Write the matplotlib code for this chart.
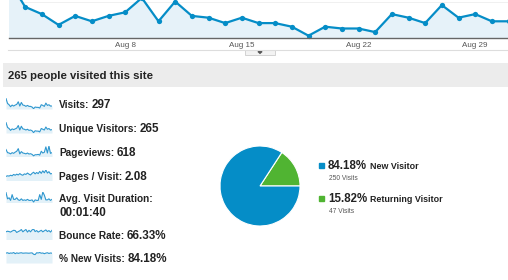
import matplotlib
matplotlib.use("Agg")
import matplotlib.pyplot as plt
from matplotlib.patches import Rectangle, Polygon

plt.rcParams["font.family"] = ["Liberation Sans", "DejaVu Sans"]

# daily visits, Aug 1 .. Aug 31
days = list(range(1, 32))
visits = [32, 17, 13, 7, 12, 9, 12, 14, 22, 9, 20, 12, 11, 8, 11, 8,
          8, 6, 1, 6, 5, 5, 3, 13, 11, 8, 18, 11, 13, 9, 9]
tick_days = [8, 15, 22, 29]
tick_labels = ["Aug 8", "Aug 15", "Aug 22", "Aug 29"]

# overview metrics with their sparklines
metric_labels = ["Visits:", "Unique Visitors:", "Pageviews:", "Pages / Visit:",
                 "Avg. Visit Duration:", "Bounce Rate:", "% New Visits:"]
metric_values = ["297", "265", "618", "2.08", "00:01:40", "66.33%", "84.18%"]
spark_visits = visits
spark_unique = [28, 15, 12, 7, 11, 9, 11, 13, 20, 8, 18, 11, 10, 8, 10, 7,
                8, 6, 1, 6, 5, 5, 3, 12, 10, 8, 16, 10, 12, 8, 9]
spark_pageviews = [40, 22, 20, 15, 22, 18, 25, 30, 45, 15, 28, 20, 18, 15, 20, 14,
                   16, 12, 4, 10, 10, 12, 8, 30, 20, 24, 55, 20, 60, 18, 22]
spark_pages_visit = [1.5, 1.7, 1.6, 1.9, 1.7, 2.2, 1.9, 2.3, 2.0, 2.5, 2.1, 1.9, 2.4, 2.2, 2.7, 2.3,
                     2.0, 2.6, 3.0, 2.4, 2.9, 2.5, 3.3, 2.6, 3.5, 2.8, 3.8, 2.7, 3.2, 2.4, 2.5]
spark_duration = [190, 70, 90, 40, 150, 60, 60, 90, 50, 40, 70, 40, 50, 40, 60, 40,
                  40, 50, 10, 50, 40, 40, 150, 60, 200, 140, 50, 50, 70, 40, 60]
spark_bounce = [60, 65, 62, 58, 66, 72, 70, 55, 62, 68, 78, 60, 70, 78, 58, 72,
                60, 75, 82, 62, 70, 58, 65, 72, 60, 68, 75, 62, 70, 58, 72]
spark_new = [85, 88, 82, 86, 84, 90, 80, 87, 83, 86, 88, 84, 85, 86, 85, 84,
             86, 87, 75, 72, 88, 86, 90, 84, 86, 80, 85, 88, 82, 86, 84]
sparks = [spark_visits, spark_unique, spark_pageviews, spark_pages_visit,
          spark_duration, spark_bounce, spark_new]

# new vs returning
visitor_types = ["New Visitor", "Returning Visitor"]
visitor_share = [84.18, 15.82]
visitor_visits = [250, 47]

blue = "#058dc7"
green = "#50b432"
W, H = 508, 280

fig = plt.figure(figsize=(W / 100, H / 100), dpi=100)

# overlay in pixel coordinates for the page furniture and text
ax0 = fig.add_axes([0, 0, 1, 1])
ax0.set_xlim(0, W)
ax0.set_ylim(H, 0)
ax0.axis("off")

ax0.plot([8, W], [50, 50], color="#dddddd", lw=0.8)
ax0.add_patch(Rectangle((245, 50), 30, 5, facecolor="#f3f3f3", edgecolor="#cccccc", lw=0.6))
ax0.add_patch(Polygon([(258, 51.5), (262, 51.5), (260, 53.3)], color="#555555"))

ax0.add_patch(Rectangle((3, 63), W - 3, 24, facecolor="#ececec", edgecolor="none"))
ax0.text(8, 79, "265 people visited this site", fontsize=8.2, fontweight="bold",
         color="#222222", va="baseline")

renderer = fig.canvas.get_renderer()

row_y = [105, 129, 152.5, 176.5, 198.5, 235.5, 259]
for label, value, y in zip(metric_labels, metric_values, row_y):
    t = ax0.text(59, y + 3.5, label, fontsize=7.3, fontweight="bold",
                 color="#222222", va="baseline")
    if label.startswith("Avg."):
        ax0.text(59, y + 17, value, fontsize=8.4, fontweight="bold",
                 color="#222222", va="baseline")
    else:
        x1 = t.get_window_extent(renderer).x1
        ax0.text(x1 + 2.5, y + 3.5, value, fontsize=8.4, fontweight="bold",
                 color="#222222", va="baseline")

for vals, y in zip(sparks, row_y):
    top = y - 7
    axs = fig.add_axes([6 / W, (H - (y + 4)) / H, 46 / W, 11 / H])
    axs.fill_between(range(len(vals)), vals, 0, color="#e3f1f8", lw=0)
    axs.plot(range(len(vals)), vals, color="#2e97cf", lw=0.8)
    axs.set_xlim(0, len(vals) - 1)
    axs.set_ylim(0, max(vals) * 1.05)
    axs.axis("off")

# legend for the pie
leg_y = [165.5, 198.5]
for name, share, n, y, c in zip(visitor_types, visitor_share, visitor_visits, leg_y, [blue, green]):
    ax0.add_patch(Rectangle((319, y - 2.5), 5, 5, color=c))
    t = ax0.text(328, y + 3.5, f"{share:.2f}%", fontsize=8.3, color="#222222",
                 fontweight="bold", va="baseline")
    x1 = t.get_window_extent(renderer).x1
    ax0.text(x1 + 3, y + 3.5, name, fontsize=6.4, fontweight="bold",
             color="#222222", va="baseline")
    ax0.text(329, y + 14.5, f"{n} Visits", fontsize=4.8, color="#555555", va="baseline")

# main visits chart (extends above the top edge like the cropped screenshot)
ax = fig.add_axes([8.5 / W, (H - 37.5) / H, 500 / W, 72 / H])
ax.patch.set_alpha(0)
ax.fill_between(days, visits, 0, color="#e6f2f9", lw=0)
ax.axhline(20, color="#eeeeee", lw=0.6, zorder=0)
ax.plot(days, visits, color=blue, lw=1.6, marker="o", markersize=3.8,
        markeredgewidth=0, clip_on=False)
ax.set_xlim(1, 31)
ax.set_ylim(0, 40)
ax.set_yticks([])
ax.set_xticks(tick_days, tick_labels)
ax.tick_params(axis="x", length=0, pad=3.5, labelsize=5.8, labelcolor="#555555")
for s in ["top", "left", "right"]:
    ax.spines[s].set_visible(False)
ax.spines["bottom"].set_color("#666666")
ax.spines["bottom"].set_linewidth(1)
ax.text(1.2, 20.3, "20", fontsize=5.8, color="#666666", va="bottom")

# pie: new vs returning
axp = fig.add_axes([220 / W, (H - 226) / H, 80 / W, 80 / H])
axp.pie(visitor_share[::-1], colors=[green, blue], startangle=0, counterclock=True,
        wedgeprops=dict(edgecolor="white", linewidth=0.8))
axp.set_xlim(-1, 1)
axp.set_ylim(-1, 1)

fig.savefig("out.png", dpi=100)
